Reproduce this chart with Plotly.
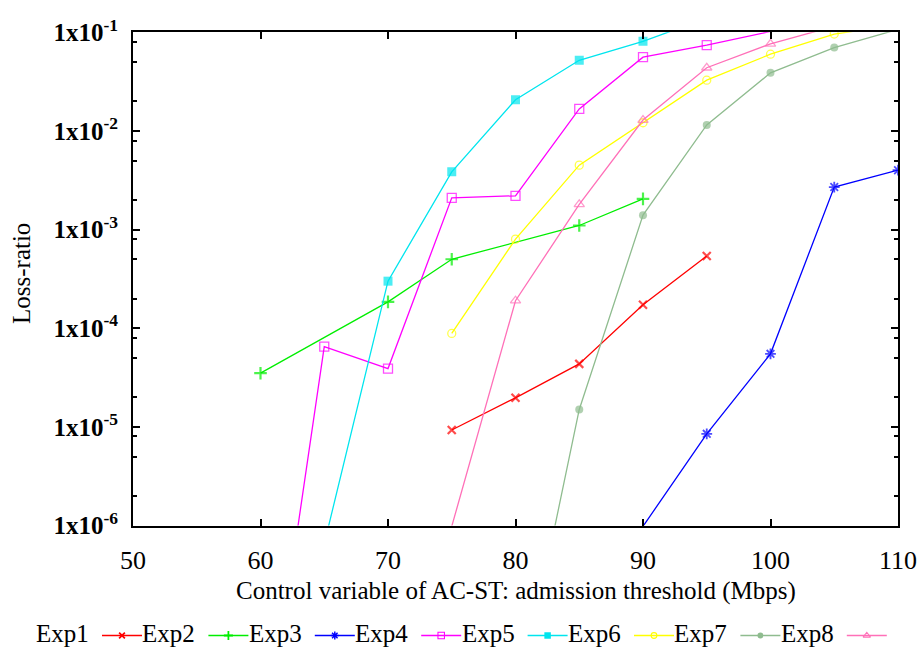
import plotly.graph_objects as go

# ---- data: loss ratio vs admission threshold (Mbps) ----
exp1_x = [75, 80, 85, 90, 95]
exp1_y = [9.3e-6, 1.97e-5, 4.35e-5, 1.73e-4, 5.4e-4]

exp2_x = [60, 70, 75, 85, 90]
exp2_y = [3.5e-5, 1.85e-4, 5.0e-4, 1.1e-3, 2.05e-3]

exp3_x = [90, 95, 100, 105, 110]
exp3_y = [9.8e-7, 8.5e-6, 5.5e-5, 2.7e-3, 4.0e-3]

exp4_x = [60, 65, 70, 75, 80, 85, 90, 95, 100]
exp4_y = [2.5e-9, 6.5e-5, 3.9e-5, 2.1e-3, 2.2e-3, 1.67e-2, 5.6e-2, 7.4e-2, 1.02e-1]

exp5_x = [65, 70, 75, 80, 85, 90, 95]
exp5_y = [6.5e-7, 3.0e-4, 3.85e-3, 2.07e-2, 5.2e-2, 8.1e-2, 1.39e-1]

exp6_x = [75, 80, 85, 90, 95, 100, 105, 110]
exp6_y = [8.85e-5, 8.0e-4, 4.5e-3, 1.21e-2, 3.27e-2, 6.0e-2, 9.6e-2, 1.19e-1]

exp7_x = [80, 85, 90, 95, 100, 105, 110]
exp7_y = [1.2e-8, 1.5e-5, 1.4e-3, 1.15e-2, 3.88e-2, 7.0e-2, 1.07e-1]

exp8_x = [75, 80, 85, 90, 95, 100, 105]
exp8_y = [9.8e-7, 1.9e-4, 1.8e-3, 1.29e-2, 4.37e-2, 7.65e-2, 1.15e-1]

series_names = ["Exp1", "Exp2", "Exp3", "Exp4", "Exp5", "Exp6", "Exp7", "Exp8"]

x_ticks = [50, 60, 70, 80, 90, 100, 110]
y_exponents = [-6, -5, -4, -3, -2, -1]
y_minor_mantissas = [2, 5, 8]

x_title = "Control variable of AC-ST: admission threshold (Mbps)"
y_title = "Loss-ratio"

# ---- styling ----
FONT = "Liberation Serif"
Y_MIN, Y_MAX = 1e-6, 1e-1

styles = [
    dict(color="#ff0000", symbol="x-thin", size=8, lw=2.2),
    dict(color="#00ee00", symbol="cross-thin", size=9, lw=2.2),
    dict(color="#0000ff", symbol="asterisk", size=9, lw=1.8),
    dict(color="#ff00ff", symbol="square-open", size=9, lw=1.3),
    dict(color="#00e5ee", symbol="square", size=9, lw=0),
    dict(color="#ffff00", symbol="circle-open", size=8, lw=1.3),
    dict(color="#8fbc8f", symbol="circle", size=8, lw=0),
    dict(color="#ff70b8", symbol="triangle-up-open", size=9, lw=1.3),
]

all_x = [exp1_x, exp2_x, exp3_x, exp4_x, exp5_x, exp6_x, exp7_x, exp8_x]
all_y = [exp1_y, exp2_y, exp3_y, exp4_y, exp5_y, exp6_y, exp7_y, exp8_y]

# page and plot-frame geometry in pixels
W, H = 921, 653
FRAME_L, FRAME_R, FRAME_T, FRAME_B = 133, 898, 32.3, 525.5


def fx(px):
    return px / W


def fy(py):
    return (H - py) / H


fig = go.Figure()

for name, xs, ys, st in zip(series_names, all_x, all_y, styles):
    # points outside the visible decade range keep their line segment but no marker
    sizes = [st["size"] if Y_MIN <= v <= Y_MAX else 0 for v in ys]
    fig.add_trace(go.Scatter(
        x=xs, y=ys, name=name, mode="lines+markers",
        line=dict(color=st["color"], width=1.3),
        marker=dict(symbol=st["symbol"], size=sizes, color=st["color"],
                    line=dict(color=st["color"], width=st["lw"])),
        showlegend=False,
    ))

# ---- key row: label followed by its line sample (drawn on a page-sized pixel axis) ----
LEG_TEXT_X0 = 34
LEG_STEP = 106.4
LEG_Y = 635.5
SAMPLE_START, SAMPLE_END, SAMPLE_MID = 68, 108, 88
KEY_MARKER_SCALE = 0.72

annotations = []
for i, (name, st) in enumerate(zip(series_names, styles)):
    x0 = LEG_TEXT_X0 + LEG_STEP * i
    annotations.append(dict(
        x=fx(x0), y=fy(LEG_Y - 2), xref="paper", yref="paper",
        text=name, showarrow=False, xanchor="left", yanchor="middle",
        font=dict(family=FONT, size=25, color="black"),
    ))
    fig.add_trace(go.Scatter(
        x=[x0 + SAMPLE_START, x0 + SAMPLE_END], y=[LEG_Y, LEG_Y],
        xaxis="x2", yaxis="y2", mode="lines",
        line=dict(color=st["color"], width=1.3),
        showlegend=False, hoverinfo="skip",
    ))
    fig.add_trace(go.Scatter(
        x=[x0 + SAMPLE_MID], y=[LEG_Y], xaxis="x2", yaxis="y2", mode="markers",
        marker=dict(symbol=st["symbol"], color=st["color"],
                    size=st["size"] * KEY_MARKER_SCALE,
                    line=dict(color=st["color"], width=max(st["lw"] * 0.8, 0))),
        showlegend=False, hoverinfo="skip",
    ))

# ---- axis titles ----
annotations.append(dict(
    x=fx((FRAME_L + FRAME_R) / 2), y=fy(591), xref="paper", yref="paper",
    text=x_title, showarrow=False, xanchor="center", yanchor="middle",
    font=dict(family=FONT, size=25, color="black"),
))
annotations.append(dict(
    x=fx(21), y=fy(274), xref="paper", yref="paper",
    text=y_title, showarrow=False, xanchor="center", yanchor="middle", textangle=-90,
    font=dict(family=FONT, size=25, color="black"),
))

y_tickvals = [10.0 ** e for e in y_exponents]
y_ticktext = [f"<b>1x10<sup>{e}</sup></b>" for e in y_exponents]
y_minor_vals = [m * 10.0 ** e for e in y_exponents[:-1] for m in y_minor_mantissas]

fig.update_layout(
    width=W, height=H,
    margin=dict(l=0, r=0, t=0, b=0, pad=0),
    paper_bgcolor="white", plot_bgcolor="rgba(0,0,0,0)",
    showlegend=False,
    annotations=annotations,
    xaxis=dict(
        domain=[fx(FRAME_L), fx(FRAME_R)], anchor="y",
        range=[50, 110], tickmode="array", tickvals=x_ticks,
        ticks="inside", ticklen=7, tickwidth=2, tickcolor="black",
        showline=True, linecolor="black", linewidth=2, mirror="ticks",
        showgrid=False, zeroline=False, ticklabelstandoff=10, automargin=False,
        tickfont=dict(family=FONT, size=26, color="black"),
    ),
    yaxis=dict(
        domain=[fy(FRAME_B), fy(FRAME_T)], anchor="x",
        type="log", range=[-6, -1], tickmode="array",
        tickvals=y_tickvals, ticktext=y_ticktext,
        ticks="inside", ticklen=7, tickwidth=2, tickcolor="black",
        minor=dict(tickmode="array", tickvals=y_minor_vals, ticks="inside",
                   ticklen=4, tickwidth=1.5, tickcolor="black", showgrid=False),
        showline=True, linecolor="black", linewidth=2, mirror="ticks",
        showgrid=False, zeroline=False, ticklabelstandoff=8, automargin=False,
        tickfont=dict(family=FONT, size=25, color="black"),
    ),
    xaxis2=dict(domain=[0, 1], anchor="y2", range=[0, W], visible=False, fixedrange=True),
    yaxis2=dict(domain=[0, 1], anchor="x2", range=[H, 0], visible=False, fixedrange=True),
)

fig.write_html("out.html")
